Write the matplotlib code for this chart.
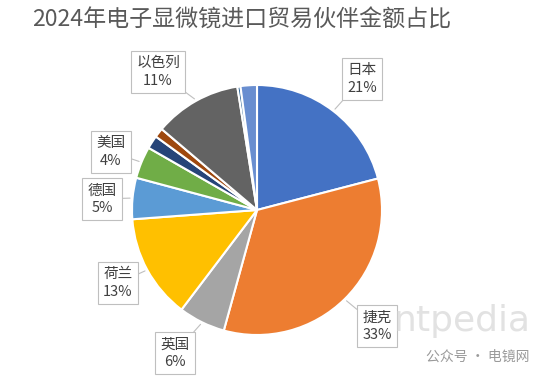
import numpy as np
import matplotlib
matplotlib.use("Agg")
import matplotlib.pyplot as plt

plt.rcParams['font.family'] = ['Noto Sans CJK SC', 'DejaVu Sans']

title = "2024年电子显微镜进口贸易伙伴金额占比"
countries = ['日本', '捷克', '英国', '荷兰', '德国', '美国', '', '', '以色列', '', '']
values = [20.8, 33.1, 6.0, 13.4, 5.3, 4.1, 1.7, 1.2, 11.2, 0.4, 2.1]
colors = ['#4472C4', '#ED7D31', '#A5A5A5', '#FFC000', '#5B9BD5', '#70AD47',
          '#264478', '#9E480E', '#636363', '#255E91', '#698ED0']

# label box centres (pixels) for the labelled slices
label_pos = {'日本': (362, 79), '捷克': (377, 326), '英国': (175, 353),
             '荷兰': (118, 283), '德国': (102, 199), '美国': (111, 152),
             '以色列': (158, 72)}

W, H = 550, 379
fig = plt.figure(figsize=(W / 100, H / 100), dpi=100)
fig.patch.set_facecolor('white')

cx, cy, r = 257, 210, 125
ax = fig.add_axes([(cx - r) / W, (H - cy - r) / H, 2 * r / W, 2 * r / H])
wedges, _ = ax.pie(values, colors=colors, startangle=90, counterclock=False,
                   radius=1.0, wedgeprops=dict(edgecolor='white', linewidth=1.5))
ax.set_xlim(-1, 1)
ax.set_ylim(-1, 1)
ax.set_aspect('equal')
ax.axis('off')

# watermark (drawn beneath labels)
fig.text(462 / W, 1 - 321 / H, 'ntpedia', ha='center', va='center', fontsize=26,
         color='#d6d6d6', alpha=0.7, family=['DejaVu Sans'], zorder=0)
fig.text(478 / W, 1 - 357 / H, '公众号 · 电镜网', ha='center', va='center',
         fontsize=10, color='#9a9a9a')

total = sum(values)
for w, name, v in zip(wedges, countries, values):
    if not name:
        continue
    mid = np.deg2rad((w.theta1 + w.theta2) / 2)
    tip = (1.02 * np.cos(mid), 1.02 * np.sin(mid))
    px, py = label_pos[name]
    ax.annotate(f"{name}\n{round(v / total * 100):d}%", xy=tip, xycoords='data',
                xytext=(px / W, 1 - py / H), textcoords='figure fraction',
                ha='center', va='center', fontsize=10.5, color='#404040',
                linespacing=1.3, annotation_clip=False, zorder=5,
                bbox=dict(boxstyle='square,pad=0.35', fc='white', ec='#BFBFBF', lw=0.8),
                arrowprops=dict(arrowstyle='-', color='#BFBFBF', lw=0.8,
                                shrinkA=0, shrinkB=0))

fig.text(32 / W, 1 - 20 / H, title, ha='left', va='center', fontsize=16.6,
         color='#595959')

fig.savefig('out.png', dpi=100, facecolor='white')
